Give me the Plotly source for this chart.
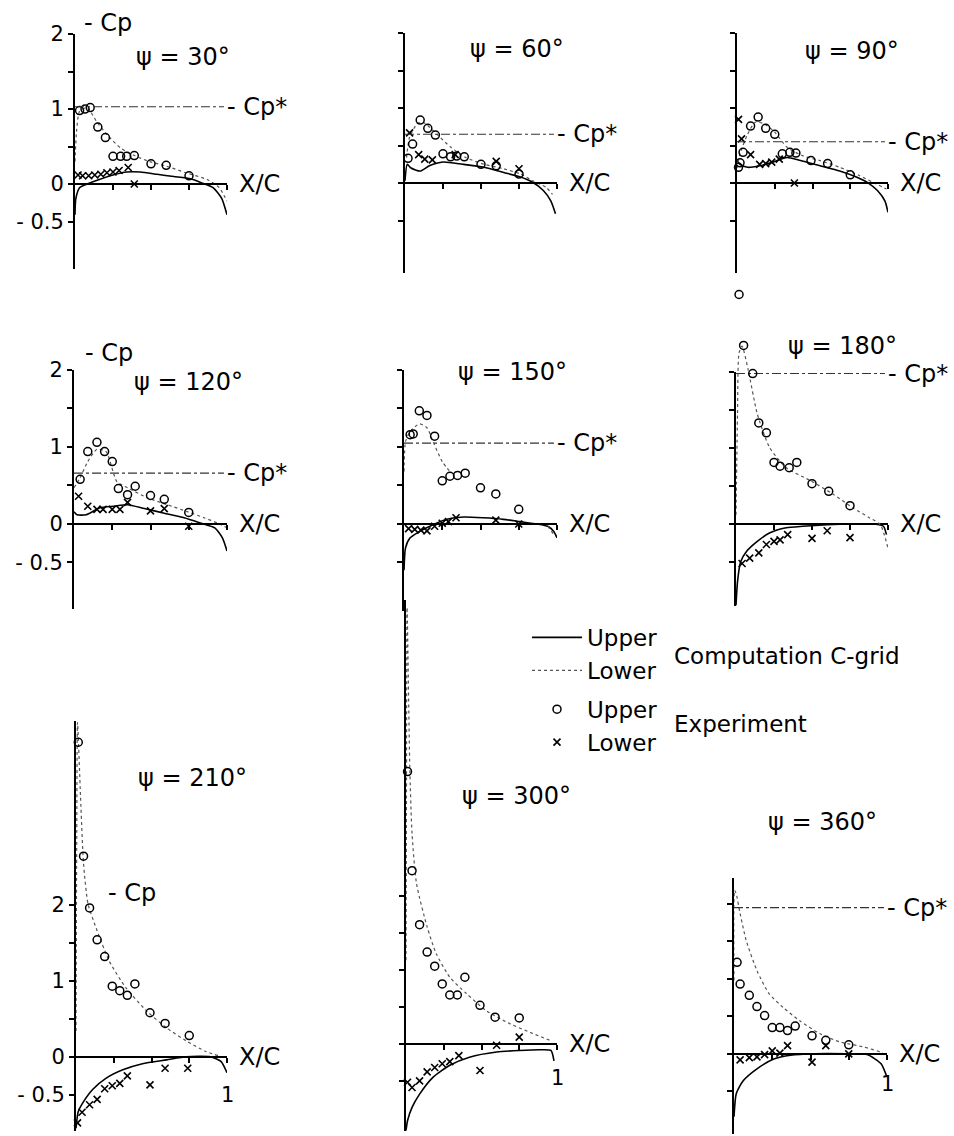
import plotly.graph_objects as go

W, H = 954, 1136
FONT = "DejaVu Sans"
# vertical calibration of the photographed page (measured: shown = A + B * drawn)
CAL_A, CAL_B = 10.9, 0.9897

# ---------------- data ----------------
psi_titles = ["ψ = 30°", "ψ = 60°", "ψ = 90°", "ψ = 120°", "ψ = 150°",
              "ψ = 180°", "ψ = 210°", "ψ = 300°", "ψ = 360°"]
cp_star = [1.03, 0.65, 0.55, 0.66, 1.05, 1.98, None, None, 1.95]
cp_star_x = [0.0, 0.98]
y_tick_vals = [-0.5, 0, 0.5, 1, 1.5, 2]
y_tick_text = ["- 0.5", "0", "", "1", "", "2"]
x_tick_vals = [0.25, 0.5, 0.75, 1.0]

# psi = 30
psi30_exp_up_x = [0.03, 0.066, 0.10, 0.15, 0.20, 0.25, 0.30, 0.34, 0.39, 0.50, 0.60, 0.75]
psi30_exp_up_y = [0.98, 1.00, 1.02, 0.76, 0.62, 0.37, 0.37, 0.37, 0.38, 0.27, 0.25, 0.11]
psi30_exp_lo_x = [0.02, 0.05, 0.09, 0.13, 0.17, 0.21, 0.25, 0.29, 0.35, 0.39]
psi30_exp_lo_y = [0.12, 0.11, 0.11, 0.12, 0.13, 0.15, 0.16, 0.18, 0.22, 0.0]
psi30_comp_up_x = [0, 0.005, 0.03, 0.08, 0.16, 0.25, 0.34, 0.43, 0.54, 0.65, 0.76, 0.84, 0.91, 0.965, 1.0]
psi30_comp_up_y = [-0.41, -0.2, -0.05, 0, 0.06, 0.12, 0.16, 0.16, 0.13, 0.10, 0.07, 0.01, -0.05, -0.19, -0.41]
psi30_comp_lo_x = [0, 0.01, 0.03, 0.08, 0.14, 0.21, 0.30, 0.38, 0.49, 0.60, 0.73, 0.87, 0.95, 1.0]
psi30_comp_lo_y = [0.3, 0.7, 0.97, 1.02, 0.84, 0.66, 0.48, 0.39, 0.30, 0.24, 0.15, 0.06, -0.05, -0.23]

# psi = 60
psi60_exp_up_x = [0.02, 0.05, 0.10, 0.15, 0.20, 0.25, 0.30, 0.34, 0.39, 0.50, 0.60, 0.75]
psi60_exp_up_y = [0.33, 0.52, 0.84, 0.73, 0.64, 0.39, 0.35, 0.36, 0.35, 0.25, 0.23, 0.12]
psi60_exp_lo_x = [0.03, 0.09, 0.13, 0.18, 0.33, 0.60, 0.75]
psi60_exp_lo_y = [0.67, 0.38, 0.32, 0.31, 0.38, 0.29, 0.19]
psi60_comp_up_x = [0, 0.015, 0.04, 0.10, 0.16, 0.25, 0.38, 0.52, 0.65, 0.76, 0.84, 0.91, 0.96, 0.99]
psi60_comp_up_y = [0.03, 0.25, 0.20, 0.16, 0.23, 0.28, 0.25, 0.21, 0.14, 0.08, 0.01, -0.10, -0.24, -0.41]
psi60_comp_lo_x = [0.01, 0.03, 0.08, 0.12, 0.21, 0.30, 0.40, 0.52, 0.65, 0.76, 0.84, 0.93, 0.97]
psi60_comp_lo_y = [0.34, 0.61, 0.79, 0.81, 0.65, 0.48, 0.34, 0.25, 0.19, 0.12, 0.03, -0.06, -0.15]

# psi = 90
psi90_exp_up_x = [0.01, 0.02, 0.04, 0.09, 0.14, 0.19, 0.25, 0.30, 0.35, 0.39, 0.49, 0.60, 0.75]
psi90_exp_up_y = [0.21, 0.27, 0.41, 0.76, 0.88, 0.73, 0.65, 0.39, 0.41, 0.40, 0.30, 0.26, 0.11]
psi90_exp_lo_x = [0.01, 0.03, 0.09, 0.15, 0.19, 0.23, 0.28, 0.38]
psi90_exp_lo_y = [0.85, 0.59, 0.38, 0.25, 0.26, 0.28, 0.32, 0.0]
psi90_comp_up_x = [0, 0.02, 0.07, 0.15, 0.24, 0.33, 0.42, 0.55, 0.68, 0.79, 0.87, 0.93, 0.98, 1.0]
psi90_comp_up_y = [0.3, 0.25, 0.21, 0.23, 0.28, 0.34, 0.30, 0.23, 0.16, 0.08, 0.0, -0.10, -0.24, -0.39]
psi90_comp_lo_x = [0, 0.02, 0.07, 0.12, 0.18, 0.25, 0.33, 0.44, 0.55, 0.68, 0.81, 0.90, 0.99]
psi90_comp_lo_y = [0.2, 0.39, 0.65, 0.81, 0.79, 0.68, 0.48, 0.36, 0.30, 0.21, 0.10, 0.01, -0.08]

# psi = 120
psi120_exp_up_x = [0.04, 0.09, 0.15, 0.20, 0.25, 0.29, 0.35, 0.40, 0.50, 0.59, 0.75]
psi120_exp_up_y = [0.58, 0.94, 1.06, 0.94, 0.81, 0.46, 0.38, 0.49, 0.37, 0.32, 0.15]
psi120_exp_lo_x = [0.03, 0.09, 0.15, 0.19, 0.25, 0.30, 0.35, 0.50, 0.59, 0.75]
psi120_exp_lo_y = [0.36, 0.23, 0.19, 0.19, 0.19, 0.19, 0.28, 0.17, 0.20, -0.03]
psi120_comp_up_x = [0, 0.02, 0.08, 0.17, 0.26, 0.35, 0.46, 0.59, 0.72, 0.83, 0.92, 0.97, 1.0]
psi120_comp_up_y = [0.16, 0.12, 0.12, 0.21, 0.23, 0.25, 0.20, 0.14, 0.08, 0.01, -0.05, -0.18, -0.35]
psi120_comp_lo_x = [0, 0.04, 0.09, 0.15, 0.21, 0.28, 0.35, 0.48, 0.61, 0.74, 0.85, 0.94, 1.0]
psi120_comp_lo_y = [0.47, 0.60, 0.81, 0.97, 0.94, 0.55, 0.47, 0.34, 0.25, 0.16, 0.08, 0.01, -0.05]

# psi = 150
psi150_exp_up_x = [0.04, 0.06, 0.10, 0.15, 0.20, 0.25, 0.30, 0.35, 0.40, 0.50, 0.60, 0.75]
psi150_exp_up_y = [1.16, 1.17, 1.47, 1.41, 1.14, 0.56, 0.62, 0.63, 0.66, 0.47, 0.39, 0.19]
psi150_exp_lo_x = [0.03, 0.07, 0.11, 0.15, 0.20, 0.25, 0.29, 0.34, 0.60, 0.75]
psi150_exp_lo_y = [-0.06, -0.07, -0.08, -0.09, -0.03, 0.01, 0.03, 0.08, 0.05, 0.0]
psi150_comp_up_x = [0, 0.01, 0.04, 0.10, 0.19, 0.28, 0.39, 0.52, 0.65, 0.76, 0.87, 0.94, 0.98, 1.0]
psi150_comp_up_y = [-0.6, -0.31, -0.18, -0.10, -0.01, 0.06, 0.09, 0.08, 0.06, 0.03, 0.0, -0.03, -0.10, -0.18]
psi150_comp_lo_x = [0, 0.01, 0.04, 0.10, 0.15, 0.19, 0.25, 0.31, None, 0.94, 0.98]
psi150_comp_lo_y = [0.68, 1.07, 1.20, 1.30, 1.25, 1.07, 0.81, 0.66, None, -0.03, -0.14]

# psi = 180
psi180_exp_up_x = [0.02, 0.05, 0.11, 0.15, 0.20, 0.25, 0.29, 0.35, 0.40, 0.50, 0.61, 0.75]
psi180_exp_up_y = [3.02, 2.35, 1.98, 1.33, 1.20, 0.81, 0.76, 0.74, 0.81, 0.53, 0.43, 0.24]
psi180_exp_lo_x = [0.04, 0.09, 0.15, 0.20, 0.25, 0.29, 0.34, 0.50, 0.60, 0.75]
psi180_exp_lo_y = [-0.52, -0.45, -0.38, -0.27, -0.23, -0.21, -0.14, -0.19, -0.09, -0.18]
psi180_comp_up_x = [0, 0.01, 0.03, 0.07, 0.14, 0.22, 0.33, 0.44, 0.60, 0.77, 0.91, 0.97, 0.99]
psi180_comp_up_y = [-1.07, -0.76, -0.50, -0.36, -0.23, -0.12, -0.05, -0.03, -0.01, 0, 0, -0.03, -0.14]
psi180_comp_lo_x = [0, 0.01, 0.02, 0.04, 0.08, 0.14, 0.22, 0.33, 0.49, 0.64, 0.77, 0.88, 0.95, 1.0]
psi180_comp_lo_y = [0.12, 1.45, 2.25, 2.34, 2.03, 1.45, 1.01, 0.74, 0.57, 0.39, 0.21, 0.08, -0.01, -0.32]

# psi = 210
psi210_exp_up_x = [0.015, 0.05, 0.09, 0.14, 0.19, 0.24, 0.29, 0.34, 0.39, 0.49, 0.59, 0.75]
psi210_exp_up_y = [4.14, 2.64, 1.96, 1.54, 1.32, 0.93, 0.87, 0.81, 0.96, 0.58, 0.44, 0.28]
psi210_exp_lo_x = [0.01, 0.04, 0.09, 0.14, 0.19, 0.24, 0.29, 0.34, 0.49, 0.59, 0.74]
psi210_exp_lo_y = [-0.87, -0.73, -0.63, -0.56, -0.42, -0.38, -0.35, -0.25, -0.37, -0.15, -0.15]
psi210_comp_up_x = [0, 0.015, 0.05, 0.11, 0.20, 0.31, 0.44, 0.60, 0.73, 0.89, 0.96, 1.0]
psi210_comp_up_y = [-0.94, -0.72, -0.59, -0.43, -0.28, -0.17, -0.09, -0.04, 0, 0, -0.06, -0.21]
psi210_comp_lo_x = [0, 0.005, 0.01, 0.03, 0.05, 0.08, 0.14, 0.22, 0.33, 0.47, 0.60, 0.73, 0.86, 0.95]
psi210_comp_lo_y = [0.34, 2.98, 4.40, 3.42, 2.54, 2.01, 1.66, 1.26, 0.91, 0.60, 0.38, 0.21, 0.07, 0.01]

# psi = 300
psi300_exp_up_x = [0.01, 0.04, 0.09, 0.14, 0.19, 0.24, 0.29, 0.34, 0.39, 0.49, 0.59, 0.75]
psi300_exp_up_y = [3.68, 2.34, 1.61, 1.24, 1.05, 0.81, 0.66, 0.66, 0.90, 0.52, 0.36, 0.35]
psi300_exp_lo_x = [0.01, 0.04, 0.09, 0.14, 0.19, 0.24, 0.29, 0.35, 0.49, 0.60, 0.75]
psi300_exp_lo_y = [-0.52, -0.59, -0.50, -0.38, -0.32, -0.27, -0.24, -0.16, -0.36, -0.02, 0.09]
psi300_comp_up_x = [0, 0.01, 0.04, 0.09, 0.18, 0.29, 0.42, 0.60, 0.75, 0.89, 0.96, 0.98]
psi300_comp_up_y = [-1.17, -1.04, -0.86, -0.68, -0.45, -0.29, -0.18, -0.11, -0.09, -0.08, -0.09, -0.23]
psi300_comp_lo_x = [0, 0.003, 0.007, 0.025, 0.04, 0.07, 0.14, 0.20, 0.29, 0.40, 0.53, 0.69, 0.84, 0.95]
psi300_comp_lo_y = [1.13, 3.29, 5.9, 3.74, 2.84, 2.16, 1.58, 1.22, 0.90, 0.68, 0.45, 0.27, 0.14, 0.05]

# psi = 360
psi360_exp_up_x = [0.02, 0.04, 0.10, 0.15, 0.20, 0.25, 0.30, 0.35, 0.40, 0.51, 0.60, 0.75]
psi360_exp_up_y = [1.22, 0.93, 0.78, 0.63, 0.51, 0.35, 0.35, 0.31, 0.37, 0.24, 0.18, 0.12]
psi360_exp_lo_x = [0.04, 0.10, 0.15, 0.20, 0.25, 0.30, 0.35, 0.51, 0.60, 0.75]
psi360_exp_lo_y = [-0.08, -0.05, -0.04, -0.01, 0.04, 0.01, 0.11, -0.11, 0.11, 0.0]
psi360_comp_up_x = [0, 0.015, 0.06, 0.15, 0.26, 0.37, 0.52, 0.74, 0.87, 0.96, 1.0]
psi360_comp_up_y = [-0.84, -0.53, -0.36, -0.20, -0.07, -0.02, 0, 0, -0.01, -0.13, -0.31]
psi360_comp_lo_x = [0, 0.004, 0.015, 0.04, 0.08, 0.15, 0.23, 0.32, 0.43, 0.56, 0.69, 0.85, 0.96, 1.0]
psi360_comp_lo_y = [0.98, 2.18, 2.13, 1.87, 1.51, 1.11, 0.80, 0.62, 0.44, 0.27, 0.16, 0.09, 0.02, -0.04]

exp_up = [(psi30_exp_up_x, psi30_exp_up_y), (psi60_exp_up_x, psi60_exp_up_y), (psi90_exp_up_x, psi90_exp_up_y),
          (psi120_exp_up_x, psi120_exp_up_y), (psi150_exp_up_x, psi150_exp_up_y), (psi180_exp_up_x, psi180_exp_up_y),
          (psi210_exp_up_x, psi210_exp_up_y), (psi300_exp_up_x, psi300_exp_up_y), (psi360_exp_up_x, psi360_exp_up_y)]
exp_lo = [(psi30_exp_lo_x, psi30_exp_lo_y), (psi60_exp_lo_x, psi60_exp_lo_y), (psi90_exp_lo_x, psi90_exp_lo_y),
          (psi120_exp_lo_x, psi120_exp_lo_y), (psi150_exp_lo_x, psi150_exp_lo_y), (psi180_exp_lo_x, psi180_exp_lo_y),
          (psi210_exp_lo_x, psi210_exp_lo_y), (psi300_exp_lo_x, psi300_exp_lo_y), (psi360_exp_lo_x, psi360_exp_lo_y)]
comp_up = [(psi30_comp_up_x, psi30_comp_up_y), (psi60_comp_up_x, psi60_comp_up_y), (psi90_comp_up_x, psi90_comp_up_y),
           (psi120_comp_up_x, psi120_comp_up_y), (psi150_comp_up_x, psi150_comp_up_y), (psi180_comp_up_x, psi180_comp_up_y),
           (psi210_comp_up_x, psi210_comp_up_y), (psi300_comp_up_x, psi300_comp_up_y), (psi360_comp_up_x, psi360_comp_up_y)]
comp_lo = [(psi30_comp_lo_x, psi30_comp_lo_y), (psi60_comp_lo_x, psi60_comp_lo_y), (psi90_comp_lo_x, psi90_comp_lo_y),
           (psi120_comp_lo_x, psi120_comp_lo_y), (psi150_comp_lo_x, psi150_comp_lo_y), (psi180_comp_lo_x, psi180_comp_lo_y),
           (psi210_comp_lo_x, psi210_comp_lo_y), (psi300_comp_lo_x, psi300_comp_lo_y), (psi360_comp_lo_x, psi360_comp_lo_y)]

# ---------------- layout of the panels (pixels) ----------------
# x0: pixel of X/C=0, x1: pixel of X/C=1, y0: pixel of Cp=0, s: px per unit,
# top/bot: visible axis extent, ext: data extent when marks rise above the axis
panels = [
    dict(x0=75, x1=227, y0=183, s=75, top=2.0, bot=-1.13, ext=None, title=(0.71, 1.69), cp=(0.046, 2.15), lab=True, one=None),
    dict(x0=405, x1=557, y0=182, s=75, top=2.0, bot=-1.2, ext=None, title=(0.74, 1.79), cp=None, lab=False, one=None),
    dict(x0=737, x1=888, y0=182, s=75, top=2.0, bot=-1.2, ext=None, title=(0.76, 1.76), cp=None, lab=False, one=None),
    dict(x0=74, x1=227, y0=523, s=77, top=2.0, bot=-1.1, ext=None, title=(0.75, 1.84), cp=(0.06, 2.22), lab=True, one=None),
    dict(x0=404, x1=557, y0=523, s=77, top=2.0, bot=-1.13, ext=None, title=(0.71, 1.97), cp=None, lab=False, one=None),
    dict(x0=736, x1=888, y0=523, s=76, top=2.0, bot=-1.08, ext=3.2, title=(0.70, 2.34), cp=None, lab=False, one=None),
    dict(x0=76, x1=227, y0=1056, s=76, top=4.42, bot=-0.97, ext=None, title=(0.77, 3.67), cp=(0.2, 2.16), lab=True, one=-38),
    dict(x0=406, x1=557, y0=1043, s=74, top=6.0, bot=-1.18, ext=None, title=(0.73, 3.35), cp=None, lab=False, one=-34),
    dict(x0=734, x1=887, y0=1053, s=75, top=2.35, bot=-1.07, ext=None, title=(0.58, 3.09), cp=None, lab=False, one=-30),
]


def px_x(p, x):
    return p["x0"] + x * (p["x1"] - p["x0"])


def px_y(p, y):
    return p["y0"] - y * p["s"]


def pap_x(px):
    return px / W


def pap_y(py):
    return min(1.0, max(0.0, 1 - ((py - CAL_A) / CAL_B) / H))


def txt(px, py, text, size, xanchor="left"):
    return dict(x=pap_x(px), y=pap_y(py), xref="paper", yref="paper", text=text, showarrow=False,
                xanchor=xanchor, yanchor="middle", font=dict(size=size, family=FONT, color="black"))


fig = go.Figure()
annotations = []
layout = {}
axis_common = dict(showgrid=False, zeroline=False, fixedrange=True)
tick_common = dict(tickwidth=1.5, tickcolor="black", ticklen=5)

for i, p in enumerate(panels):
    k = "" if i == 0 else str(i + 1)
    xa, ya = "x" + k, "y" + k
    xpos = pap_y(p["y0"])
    xdom = [pap_x(p["x0"]), pap_x(p["x1"])]
    ydom = [pap_y(px_y(p, p["bot"])), pap_y(px_y(p, p["top"]))]
    layout["xaxis" + k] = dict(domain=xdom, range=[0, 1], anchor="free",
                               position=xpos, showline=True, linecolor="black", linewidth=2,
                               ticks="outside", tickvals=x_tick_vals, showticklabels=False,
                               **tick_common, **axis_common)
    layout["yaxis" + k] = dict(domain=ydom, range=[p["bot"], p["top"]], anchor=xa,
                               showline=True, linecolor="black", linewidth=2, ticks="outside",
                               tickvals=y_tick_vals, ticktext=y_tick_text, showticklabels=p["lab"],
                               tickfont=dict(size=21, color="black", family=FONT),
                               **tick_common, **axis_common)
    # overlay axes giving the ticks their crossing half
    ok = str(i + 11)
    layout["xaxis" + ok] = dict(overlaying=xa, range=[0, 1], anchor="free", position=xpos,
                                showline=False, ticks="inside", tickvals=x_tick_vals,
                                showticklabels=False, **tick_common, **axis_common)
    layout["yaxis" + ok] = dict(overlaying=ya, range=[p["bot"], p["top"]], anchor=xa, side="left",
                                showline=False, ticks="inside", tickvals=y_tick_vals,
                                showticklabels=False, **tick_common, **axis_common)

    # extended (invisible) axes for marks that rise above the drawn axis
    if p["ext"] is not None:
        layout["xaxis10"] = dict(domain=xdom, range=[0, 1], anchor="y10", visible=False, **axis_common)
        layout["yaxis10"] = dict(domain=[ydom[0], pap_y(px_y(p, p["ext"]))], range=[p["bot"], p["ext"]],
                                 anchor="x10", visible=False, **axis_common)

    def axes_for(ys):
        if p["ext"] is not None and max(v for v in ys if v is not None) > p["top"]:
            return "x10", "y10"
        return xa, ya

    first = i == 0
    cx, cy = comp_up[i]
    ax_, ay_ = axes_for(cy)
    fig.add_trace(go.Scatter(x=cx, y=cy, mode="lines", xaxis=ax_, yaxis=ay_,
                             line=dict(color="black", width=1.6, shape="spline", smoothing=0.6),
                             name="Upper", legendgroup="comp", showlegend=first))
    lx, ly = comp_lo[i]
    ax_, ay_ = axes_for(ly)
    fig.add_trace(go.Scatter(x=lx, y=ly, mode="lines", xaxis=ax_, yaxis=ay_, connectgaps=False,
                             line=dict(color="#555555", width=1.2, dash="dot", shape="spline", smoothing=0.6),
                             name="Lower", legendgroup="comp", showlegend=first))
    ux, uy = exp_up[i]
    ax_, ay_ = axes_for(uy)
    fig.add_trace(go.Scatter(x=ux, y=uy, mode="markers", xaxis=ax_, yaxis=ay_, cliponaxis=False,
                             marker=dict(symbol="circle-open", size=8, color="black", line=dict(width=1.5)),
                             name="Upper", legendgroup="exp", showlegend=first))
    dx, dy = exp_lo[i]
    ax_, ay_ = axes_for(dy)
    fig.add_trace(go.Scatter(x=dx, y=dy, mode="markers", xaxis=ax_, yaxis=ay_, cliponaxis=False,
                             marker=dict(symbol="x-thin-open", size=7, color="black", line=dict(width=1.6)),
                             name="Lower", legendgroup="exp", showlegend=first))
    if cp_star[i] is not None:
        fig.add_trace(go.Scatter(x=cp_star_x, y=[cp_star[i]] * 2, mode="lines", xaxis=xa, yaxis=ya,
                                 cliponaxis=False,
                                 line=dict(color="#333333", width=1.1, dash="dashdot"), showlegend=False))
        annotations.append(txt(px_x(p, cp_star_x[1]) + 1, px_y(p, cp_star[i]), "- Cp*", 24))

    annotations.append(txt(px_x(p, p["title"][0]), px_y(p, p["title"][1]), psi_titles[i], 24, "center"))
    annotations.append(txt(p["x1"] + 10, p["y0"], "X/C", 24))
    if p["cp"] is not None:
        annotations.append(txt(px_x(p, p["cp"][0]), px_y(p, p["cp"][1]), "- Cp", 24))
    if p["one"] is not None:
        annotations.append(txt(p["x1"], p["y0"] - p["one"], "1", 21, "center"))

# legend group labels
annotations.append(txt(672, 655, "Computation C-grid", 23))
annotations.append(txt(672, 723, "Experiment", 23))

fig.update_layout(
    width=W, height=H, margin=dict(l=0, r=0, t=0, b=0, pad=0), autosize=False,
    paper_bgcolor="white", plot_bgcolor="rgba(0,0,0,0)",
    font=dict(family=FONT, color="black"),
    annotations=annotations,
    legend=dict(x=527 / W, y=pap_y(615), xanchor="left", yanchor="top", traceorder="grouped",
                tracegroupgap=6, font=dict(size=23, family=FONT, color="black"),
                bgcolor="rgba(0,0,0,0)", itemwidth=50),
    **layout,
)

fig.write_html(
    "out.html",
    config={"displayModeBar": False, "responsive": False},
    post_script=("document.documentElement.style.margin='0px';"
                 "document.body.style.margin='0px';document.body.style.overflow='hidden';"
                 "var d=document.getElementById('{plot_id}');"
                 "d.style.position='absolute';d.style.top='0px';d.style.left='0px';"),
)
